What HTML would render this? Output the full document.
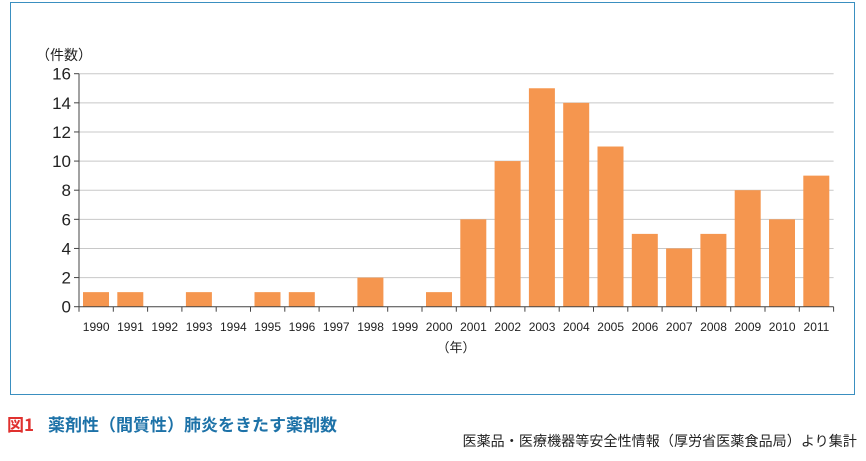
<!DOCTYPE html>
<html><head><meta charset="utf-8"><style>
body{margin:0;width:866px;height:461px;background:#fff;font-family:"Liberation Sans","Noto Sans CJK JP",sans-serif;overflow:hidden;position:relative}
#frame{position:absolute;left:10px;top:2px;width:845px;height:393px;border:1.5px solid #3a8fc0;box-sizing:border-box}
#cap{position:absolute;left:7px;top:411px;font-size:17px;letter-spacing:0px;font-weight:bold;color:#1d72a8;font-family:"Noto Sans CJK JP",sans-serif;white-space:nowrap}
#cap span{color:#e0312f;margin-right:14px}
#src{position:absolute;right:9px;top:431px;font-size:14px;letter-spacing:0.1px;color:#222;font-family:"Noto Sans CJK JP",sans-serif;white-space:nowrap}
</style></head><body>
<div id="frame"></div>
<svg id="chart" width="866" height="461" style="position:absolute;left:0;top:0"></svg>
<div id="cap"><span>図1</span>薬剤性（間質性）肺炎をきたす薬剤数</div>
<div id="src">医薬品・医療機器等安全性情報（厚労省医薬食品局）より集計</div>
<script>
const years=["1990","1991","1992","1993","1994","1995","1996","1997","1998","1999","2000","2001","2002","2003","2004","2005","2006","2007","2008","2009","2010","2011"];
const counts=[1,1,0,1,0,1,1,0,2,0,1,6,10,15,14,11,5,4,5,8,6,9];
const yTicks=[0,2,4,6,8,10,12,14,16];
const NS="http://www.w3.org/2000/svg";
const svg=document.getElementById('chart');
const x0=79,x1=833.6,y0=306.7,yTop=73.7,yMax=16;
const slot=(x1-x0)/years.length;
const yS=v=>y0-(v/yMax)*(y0-yTop);
function mk(t,a){const e=document.createElementNS(NS,t);for(const k in a)e.setAttribute(k,a[k]);svg.appendChild(e);return e;}
yTicks.forEach(v=>{
  if(v>0){const g=mk('line',{x1:x0,x2:x1,y1:yS(v),y2:yS(v),stroke:'#c8c8c8','stroke-width':1});
  
  }
  const tk=mk('line',{x1:x0-5,x2:x0,y1:yS(v),y2:yS(v),stroke:'#444'});
  
  
  const t=mk('text',{x:x0-8,y:yS(v)+6,'text-anchor':'end','font-size':'17','fill':'#222'});
  t.textContent=v;
  
  
});
counts.forEach((c,i)=>{
  const bx=x0+i*slot+4;
  if(c>0){const r=mk('rect',{x:bx,y:yS(c),width:26,height:y0-yS(c),fill:'#f5964f'});
  
  }
  const tk=mk('line',{x1:x0+(i+1)*slot,x2:x0+(i+1)*slot,y1:y0,y2:y0+5,stroke:'#444'});
  
  
  const t=mk('text',{x:x0+(i+0.5)*slot,y:331,'text-anchor':'middle','font-size':'12','fill':'#222'});
  t.textContent=years[i];
  
  
});
const ax=mk('line',{x1:x0,x2:x0,y1:yTop,y2:y0+5,stroke:'#444'});


const bx=mk('line',{x1:x0,x2:x1,y1:y0,y2:y0,stroke:'#444'});


const yt=mk('text',{x:36,y:60,'font-size':'14','fill':'#222','font-family':'Noto Sans CJK JP, sans-serif'});
yt.textContent='（件数）';


const xt=mk('text',{x:456,y:352,'text-anchor':'middle','font-size':'13','fill':'#222','font-family':'Noto Sans CJK JP, sans-serif'});
xt.textContent='（年）';


</script>
</body></html>
